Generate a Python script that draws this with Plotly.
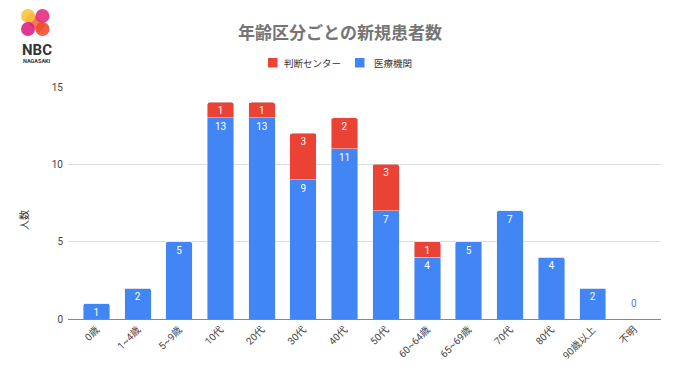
import plotly.graph_objects as go

categories = ["0歳", "1~4歳", "5~9歳", "10代", "20代", "30代", "40代", "50代",
              "60~64歳", "65~69歳", "70代", "80代", "90歳以上", "不明"]
iryo_kikan = [1, 2, 5, 13, 13, 9, 11, 7, 4, 5, 7, 4, 2, 0]
handan_center = [0, 0, 0, 1, 1, 3, 2, 3, 1, 0, 0, 0, 0, 0]
y_ticks = [0, 5, 10, 15]

FONT = "Roboto, Noto Sans CJK JP"
CJK = "Noto Sans CJK JP"
BLUE = "#4285F4"
RED = "#EA4335"

# page has an 8px body margin; figure is sized to fill the remaining window
OFF = 8
W, H = 680 - OFF, 382 - OFF
L, R, T, B = 60, 19, 79, 63
PW, PH = W - L - R, H - T - B


def px(wx):  # window x -> paper x
    return (wx - OFF - L) / PW


def py(wy):  # window y -> paper y
    return (H - B - (wy - OFF)) / PH


fig = go.Figure()
fig.add_trace(go.Bar(
    x=categories, y=[v if v > 0 else None for v in iryo_kikan], name="医療機関",
    marker_color=BLUE, text=[str(v) if v > 0 else "" for v in iryo_kikan],
    textposition="inside", insidetextanchor="end", textangle=0, constraintext="none",
    textfont=dict(color="white", size=10, family=FONT), showlegend=False,
))
fig.add_trace(go.Bar(
    x=categories, y=handan_center, name="判断センター",
    marker_color=RED, text=[str(v) if v > 0 else "" for v in handan_center],
    textposition="inside", insidetextanchor="end", textangle=0, constraintext="none",
    textfont=dict(color="white", size=10, family=FONT), showlegend=False,
))
# zero label for categories with no cases
for c, a, b in zip(categories, iryo_kikan, handan_center):
    if a + b == 0:
        fig.add_annotation(x=c, y=0, text="0", showarrow=False, yshift=16,
                           xanchor="center", yanchor="middle",
                           font=dict(color=BLUE, size=10, family=FONT))

fig.update_layout(
    width=W, height=H,
    margin=dict(l=L, r=R, t=T, b=B),
    barmode="stack", bargap=0.36, barcornerradius=2,
    plot_bgcolor="white", paper_bgcolor="white",
    font=dict(family=FONT, color="#444444"),
    title=dict(text="<b>年齢区分ごとの新規患者数</b>", xref="container", x=(340 - OFF) / W,
               xanchor="center", y=1 - (33 - OFF) / H, yanchor="middle",
               font=dict(size=17, color="#757575", family=CJK)),
    showlegend=False,
    xaxis=dict(tickangle=-45, tickfont=dict(size=10, color="#444444", family=FONT),
               showline=True, linecolor="#888888", linewidth=1, ticks="",
               range=[-0.687, 13.65]),
    yaxis=dict(range=[0, 15], tickvals=y_ticks, showgrid=True, gridcolor="#dddddd",
               zeroline=True, zerolinecolor="#888888", zerolinewidth=1,
               tickfont=dict(size=10, color="#444444", family=FONT), ticks="",
               ticklabelstandoff=4),
)
fig.add_annotation(text="人数", xref="paper", yref="paper", x=px(23), y=py(220),
                   xanchor="center", yanchor="middle",
                   textangle=-90, showarrow=False, font=dict(size=10, color="#333333", family=CJK))

# manual legend
legend_items = [("判断センター", RED, 268, 282), ("医療機関", BLUE, 355, 372)]
for name, col, sx, tx in legend_items:
    fig.add_shape(type="rect", xref="paper", yref="paper",
                  x0=px(sx), x1=px(sx + 9.5), y0=py(67.5), y1=py(58),
                  fillcolor=col, line_width=0)
    fig.add_annotation(text=name, xref="paper", yref="paper", x=px(tx), y=py(63),
                       xanchor="left", yanchor="middle", showarrow=False,
                       font=dict(size=9.5, color="#333333", family=CJK))

# NBC logo
fig.add_shape(type="line", xref="paper", yref="paper",
              x0=px(28), y0=py(16), x1=px(42.5), y1=py(29),
              line=dict(color="#F0643A", width=10), opacity=0.85)
logo = [(28, 16, "#F9C23C"), (42.5, 16, "#E2287F"), (28, 29, "#D91C83"), (42.5, 29, "#EF4A2A")]
for cx, cy, col in logo:
    fig.add_shape(type="circle", xref="paper", yref="paper",
                  x0=px(cx - 7), x1=px(cx + 7),
                  y0=py(cy + 7), y1=py(cy - 7),
                  fillcolor=col, line_width=0, opacity=0.88)
fig.add_annotation(text="<b>NBC</b>", xref="paper", yref="paper",
                   x=px(36.7), y=py(50.5), xanchor="center", yanchor="middle", showarrow=False,
                   font=dict(size=15, color="#333333", family="Roboto"))
fig.add_annotation(text="<b>NAGASAKI</b>", xref="paper", yref="paper",
                   x=px(36.7), y=py(61.3), xanchor="center", yanchor="middle", showarrow=False,
                   font=dict(size=5.5, color="#333333", family="Roboto"))

fig.write_html("out.html")
